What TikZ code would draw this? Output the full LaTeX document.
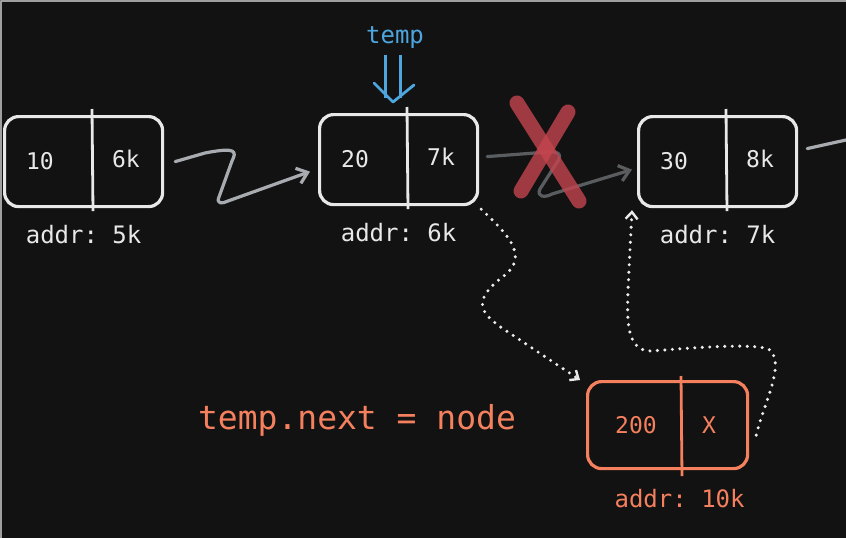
\documentclass[tikz,border=0pt]{standalone}
\usepackage{fontspec}
\setmonofont{DejaVu Sans Mono}
\usetikzlibrary{arrows.meta}

\definecolor{bgdark}{HTML}{121212}
\definecolor{chalk}{HTML}{E8E8E8}
\definecolor{coral}{HTML}{F4805E}
\definecolor{skyblue}{HTML}{4DA6DE}
\definecolor{wire}{HTML}{A8ACB0}
\definecolor{dimwire}{HTML}{5A5D60}
\definecolor{crossred}{HTML}{C4444E}

\tikzset{
  listbox/.style={draw=chalk, line width=3.2pt, rounded corners=14pt, minimum width=158pt, minimum height=90pt, inner sep=0pt},
  val/.style={font=\ttfamily\fontsize{23}{23}\selectfont, text=chalk},
  addr/.style={font=\ttfamily\fontsize{24}{24}\selectfont, text=chalk},
  link/.style={wire, line width=3.2pt, line cap=round, line join=round, -{Straight Barb[length=10pt,width=16pt]}},
  dotlink/.style={chalk!85, line width=3.4pt, dash pattern=on 0pt off 7.5pt, line cap=round, -{Straight Barb[length=7pt,width=12pt,line width=2.4pt]}},
}

\begin{document}
\begin{tikzpicture}[x=1pt, y=-1pt, line join=round]
    \useasboundingbox (0,0) rectangle (846,538);
    % background and frame
    \fill[bgdark] (0,0) rectangle (846,538);
    \draw[gray!75, line width=2pt] (1,538) -- (1,1) -- (846,1);

    % the list nodes
    \foreach \name/\left/\top/\val/\ptr/\addr in {n1/3/115/10/6k/5k, n2/318/113/20/7k/6k, n3/637/115/30/8k/7k} {
        \node[listbox, anchor=north west] (\name) at (\left,\top) {};
        \draw[chalk, line width=2.8pt] ([xshift=89pt, yshift=6pt]\name.north west) -- ([xshift=90pt, yshift=-3pt]\name.south west);
        \node[val] (\name-v) at ([xshift=37pt]\name.west) {\val};
        \node[val] (\name-p) at ([xshift=123pt, yshift=3pt]\name.west) {\ptr};
        \node[addr] (\name-a) at ([yshift=-26pt]\name.south) {addr: \addr};
    }

    % new node
    \node[listbox, draw=coral, minimum width=160pt, minimum height=87pt, anchor=north west] (n4) at (586,380) {};
    \draw[coral, line width=2.8pt] ([xshift=95pt, yshift=4pt]n4.north west) -- ([xshift=96pt, yshift=-6pt]n4.south west);
    \node[val, text=coral] (n4-v) at ([xshift=50pt]n4.west) {200};
    \node[val, text=coral] (n4-p) at ([xshift=123pt]n4.west) {X};
    \node[addr, text=coral] (n4-a) at ([xshift=12pt, yshift=-28pt]n4.south) {addr: 10k};

    % links
    \draw[link] ([xshift=11pt]n1.east) -- (205,153) .. controls (236,147) and (237,151) .. (232,161) -- (219,197) .. controls (216,204) and (222,204) .. (228,201) -- ([xshift=-8pt, yshift=-12pt]n2.west);
    \draw[link, dimwire] ([xshift=8pt, yshift=3pt]n2.east) -- (548,152) .. controls (561,151) and (562,156) .. (556,164) -- (540,189) .. controls (536,197) and (545,198) .. (552,194) -- ([xshift=-5pt, yshift=-8pt]n3.west);
    \coordinate (tail) at (846,140);
    \draw[wire, line width=3.2pt, line cap=round] ([xshift=9pt, yshift=13pt]n3.east) -- (tail);

    % broken link
    \draw[crossred, opacity=0.8, line width=15pt, line cap=round] (517,103) -- (579,201);
    \draw[crossred, opacity=0.8, line width=15pt, line cap=round] (568,112) -- (521,191);

    % new pointers
    \draw[dotlink] ([xshift=2pt, yshift=-3pt]n2.south east) .. controls (505,232) and (530,255) .. (505,275) .. controls (472,300) and (478,312) .. (505,330) -- ([xshift=-6pt]n4.north west);
    \draw[dotlink] ([xshift=7pt, yshift=-10pt]n4.east) .. controls (765,400) and (785,365) .. (770,350) .. controls (760,343) and (700,347) .. (652,351) .. controls (626,352) and (627,320) .. (628,290) -- ([xshift=-5pt, yshift=-2pt]n3.south west);

    % temp pointer
    \node[font=\ttfamily\fontsize{24}{24}\selectfont, text=skyblue] (temp) at (395,38) {temp};
    \coordinate (tip) at (393,102);
    \draw[skyblue, line width=2.8pt, double=bgdark, double distance=12pt] ([yshift=-3pt]temp.south -| tip) -- ([yshift=4pt]tip);
    \draw[skyblue, line width=2.8pt, line cap=round] ([xshift=-19pt, yshift=19pt]tip) -- (tip) -- ([xshift=21pt, yshift=17pt]tip);

    % caption
    \node[font=\ttfamily\fontsize{33}{33}\selectfont, text=coral] (assign) at (357,420) {temp.next = node};
\end{tikzpicture}
\end{document}
